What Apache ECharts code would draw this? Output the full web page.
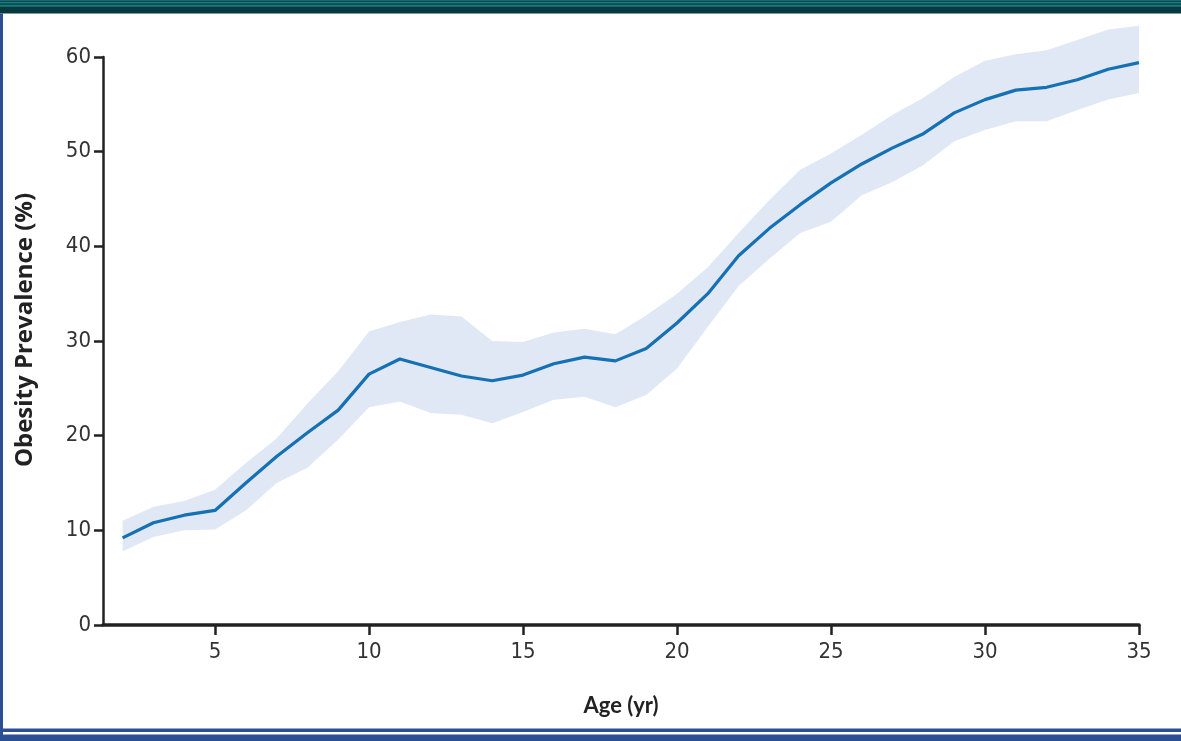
<!DOCTYPE html>
<html>
<head>
<meta charset="utf-8">
<script src="https://cdn.jsdelivr.net/npm/echarts@6/dist/echarts.min.js"></script>
<style>
html,body{margin:0;padding:0;background:#fff;}
#chart{width:1181px;height:741px;}
</style>
</head>
<body>
<div id="chart"></div>
<script>
const ages = [2,3,4,5,6,7,8,9,10,11,12,13,14,15,16,17,18,19,20,21,22,23,24,25,26,27,28,29,30,31,32,33,34,35];
const prevalence = [9.2,10.8,11.6,12.1,15.0,17.8,20.3,22.7,26.5,28.1,27.2,26.3,25.8,26.4,27.6,28.3,27.9,29.2,31.9,35.0,39.0,41.9,44.4,46.7,48.7,50.4,51.9,54.1,55.5,56.5,56.8,57.6,58.7,59.4];
const upperCI = [11.0,12.5,13.1,14.3,17.1,19.7,23.4,26.8,31.0,32.0,32.8,32.6,30.0,29.9,30.9,31.3,30.7,32.7,35.0,37.8,41.4,44.9,48.1,49.8,51.8,53.9,55.7,57.9,59.6,60.3,60.7,61.8,62.9,63.3];
const lowerCI = [7.8,9.3,10.0,10.1,12.1,15.0,16.6,19.6,23.0,23.6,22.4,22.2,21.3,22.5,23.8,24.1,23.0,24.3,27.1,31.5,35.8,38.7,41.4,42.6,45.4,46.8,48.6,51.1,52.3,53.2,53.2,54.4,55.5,56.2];
const xTicks = [5,10,15,20,25,30,35];
const yTicks = [0,10,20,30,40,50,60];
const xTitle = 'Age (yr)';
const yTitle = 'Obesity Prevalence (%)';

const chart = echarts.init(document.getElementById('chart'), null, {renderer:'canvas'});
const tickFont = "'Liberation Sans Narrow','DejaVu Sans Condensed','Roboto Condensed','Open Sans',sans-serif";
const xTitleFont = "Lato,'Open Sans',sans-serif";
const yTitleFont = "'Open Sans',Lato,sans-serif";

const bandData = ages.map((a,i)=>[a, lowerCI[i], upperCI[i]]);
const lineData = ages.map((a,i)=>[a, prevalence[i]]);

chart.setOption({
  animation:false,
  grid:{left:103, right:42, top:57, bottom:116, containLabel:false},
  xAxis:{
    type:'value', min:1.363, max:35,
    name:xTitle, nameLocation:'middle', nameGap:70,
    nameTextStyle:{fontFamily:xTitleFont, fontWeight:'bold', fontSize:22, color:'#222'},
    axisLine:{show:true, onZero:false, lineStyle:{color:'#222', width:3.5}},
    axisTick:{show:true, length:10, inside:false, lineStyle:{color:'#222', width:2.5}, customValues:xTicks},
    axisLabel:{customValues:xTicks, margin:16, fontFamily:tickFont, fontSize:22, color:'#333'},
    splitLine:{show:false}
  },
  yAxis:{
    type:'value', min:0, max:60,
    name:yTitle, nameLocation:'middle', nameGap:66, nameRotate:90,
    nameTextStyle:{fontFamily:yTitleFont, fontWeight:'bold', fontSize:24, color:'#222', padding:[0,0,0,22]},
    axisLine:{show:true, lineStyle:{color:'#222', width:2.5}},
    axisTick:{show:true, length:9, lineStyle:{color:'#222', width:2.5}, customValues:yTicks},
    axisLabel:{customValues:yTicks, margin:12, fontFamily:tickFont, fontSize:22, color:'#333'},
    splitLine:{show:false}
  },
  series:[
    {type:'custom', name:'95% CI', data:bandData, encode:{x:0, y:[1,2]}, clip:false, silent:true, z:1,
     renderItem:function(params, api){
       if (params.dataIndex !== 0) return null;
       const pts = [];
       for (let i = 0; i < ages.length; i++) pts.push(api.coord([ages[i], upperCI[i]]));
       for (let i = ages.length - 1; i >= 0; i--) pts.push(api.coord([ages[i], lowerCI[i]]));
       return {type:'polygon', shape:{points:pts}, style:{fill:'#dfe8f4'}};
     }},
    {type:'line', name:'Obesity prevalence', data:lineData, symbol:'none', clip:false,
     lineStyle:{color:'#1670b4', width:3.2}, z:3}
  ],
  graphic:[
    {type:'rect', shape:{x:0,y:0,width:1181,height:13.5}, style:{fill:'#063a3e'}, silent:true},
    {type:'rect', shape:{x:0,y:0,width:1181,height:0.8}, style:{fill:'#1d7b80'}, silent:true},
    {type:'rect', shape:{x:0,y:1.8,width:1181,height:1.6}, style:{fill:'#1d7b80'}, silent:true},
    {type:'rect', shape:{x:0,y:4.7,width:1181,height:2}, style:{fill:'#1d7b80'}, silent:true},
    {type:'rect', shape:{x:0,y:13.5,width:3,height:728}, style:{fill:'#2a4f93'}, silent:true},
    {type:'rect', shape:{x:0,y:728.5,width:1181,height:3.5}, style:{fill:'#2a4f93'}, silent:true},
    {type:'rect', shape:{x:0,y:734.5,width:1181,height:6.5}, style:{fill:'#2a4f93'}, silent:true}
  ]
});
</script>
</body>
</html>
